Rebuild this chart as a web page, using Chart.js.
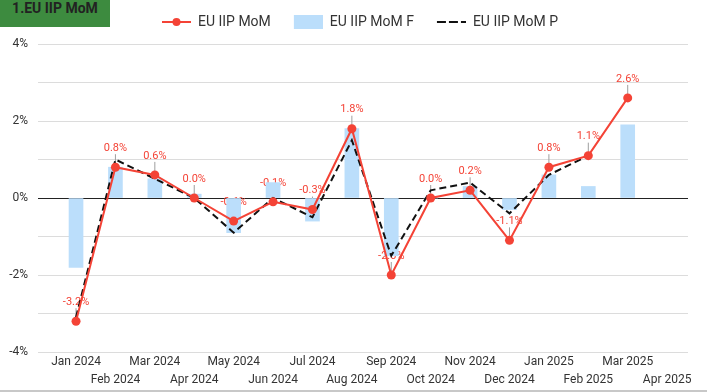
<!DOCTYPE html>
<html lang="en">
<head>
    <meta charset="UTF-8">
    <title>EU IIP MoM</title>
    <style>
        body { margin: 0; background: #fff; }
        .chart-container {
            position: relative;
            width: 707px;
            height: 392px;
        }
        .tag {
            position: absolute;
            left: 0;
            top: 0;
            width: 110px;
            height: 27px;
            line-height: 27px;
            background: #3d8b3f;
            color: #222;
            font: bold 14px Roboto, sans-serif;
            text-align: center;
            z-index: 2;
        }
        .bottom-rule {
            position: absolute;
            left: 0;
            right: 0;
            bottom: 0;
            height: 2px;
            background: #c8c8c8;
        }
    </style>
</head>
<body>
    <div class="chart-container">
        <div class="tag">1.EU IIP MoM</div>
        <canvas id="iipChart"></canvas>
        <div class="bottom-rule"></div>
    </div>

    <script src="https://cdn.jsdelivr.net/npm/chart.js"></script>
    <script>
        // data
        const months = ['Jan 2024', 'Feb 2024', 'Mar 2024', 'Apr 2024', 'May 2024', 'Jun 2024', 'Jul 2024', 'Aug 2024',
            'Sep 2024', 'Oct 2024', 'Nov 2024', 'Dec 2024', 'Jan 2025', 'Feb 2025', 'Mar 2025', 'Apr 2025'];
        const momActual = [-3.2, 0.8, 0.6, 0.0, -0.6, -0.1, -0.3, 1.8, -2.0, 0.0, 0.2, -1.1, 0.8, 1.1, 2.6, null];
        const momFinal = [-1.8, 0.8, 0.5, 0.1, -0.9, 0.4, -0.6, 1.8, -1.5, 0.0, 0.3, -0.3, 0.6, 0.3, 1.9, null];
        const momPrelim = [-3.1, 1.0, 0.5, 0.0, -0.9, 0.0, -0.5, 1.5, -1.5, 0.2, 0.4, -0.4, 0.6, 1.1, null, null];
        const yLabelled = [-4, -2, 0, 2, 4];

        const RED = '#f44336';
        const BLUE = '#bbdefb';

        Chart.defaults.font.family = 'Roboto, sans-serif';

        // little legend icons (8px blank on the left to space the items)
        function icon(draw) {
            const c = document.createElement('canvas');
            c.width = 37;
            c.height = 14;
            draw(c.getContext('2d'));
            return c;
        }
        const icons = [
            icon(g => {
                g.strokeStyle = RED; g.lineWidth = 2;
                g.beginPath(); g.moveTo(8, 7); g.lineTo(37, 7); g.stroke();
                g.fillStyle = RED;
                g.beginPath(); g.arc(22.5, 7, 4, 0, Math.PI * 2); g.fill();
            }),
            icon(g => { g.fillStyle = BLUE; g.fillRect(8, 0, 29, 14); }),
            icon(g => {
                g.strokeStyle = '#111'; g.lineWidth = 2; g.setLineDash([9, 3]);
                g.beginPath(); g.moveTo(8, 7); g.lineTo(37, 7); g.stroke();
            })
        ];

        const asPoints = arr => arr.map((v, i) => ({ x: i, y: v }));

        // value labels with a small grey leader above each red point
        const pointLabels = {
            id: 'pointLabels',
            beforeDatasetsDraw(chart) {
                const ctx = chart.ctx;
                const meta = chart.getDatasetMeta(0);
                ctx.save();
                ctx.font = '11px Roboto, sans-serif';
                ctx.textAlign = 'center';
                ctx.textBaseline = 'middle';
                meta.data.forEach((pt, i) => {
                    const v = momActual[i];
                    if (v === null) return;
                    ctx.strokeStyle = '#9e9e9e';
                    ctx.lineWidth = 1;
                    ctx.beginPath();
                    ctx.moveTo(pt.x, pt.y - 13);
                    ctx.lineTo(pt.x, pt.y);
                    ctx.stroke();
                    ctx.fillStyle = RED;
                    ctx.fillText(v.toFixed(1) + '%', pt.x, pt.y - 19);
                });
                ctx.restore();
            }
        };

        // fixed legend band height, and nudge the legend row a bit right
        const legendBox = {
            id: 'legendBox',
            beforeInit(chart) {
                const fit = chart.legend.fit;
                chart.legend.fit = function () {
                    fit.call(this);
                    this.height = 44;
                };
            },
            afterLayout(chart) {
                chart.legend.left += 12;
                chart.legend.right += 12;
            }
        };

        new Chart(document.getElementById('iipChart'), {
            type: 'line',
            data: {
                datasets: [{
                    type: 'line',
                    label: 'EU IIP MoM',
                    data: asPoints(momActual),
                    borderColor: RED,
                    backgroundColor: RED,
                    borderWidth: 2,
                    pointRadius: 4.5,
                    pointBackgroundColor: RED,
                    pointBorderWidth: 0,
                    order: 0
                }, {
                    type: 'bar',
                    label: 'EU IIP MoM F',
                    data: asPoints(momFinal),
                    backgroundColor: BLUE,
                    barThickness: 14,
                    order: 2
                }, {
                    type: 'line',
                    label: 'EU IIP MoM P',
                    data: asPoints(momPrelim),
                    borderColor: '#111',
                    borderWidth: 2,
                    borderDash: [7, 4],
                    pointRadius: 0,
                    order: 1
                }]
            },
            options: {
                responsive: true,
                maintainAspectRatio: false,
                animation: false,
                layout: { padding: { left: 0, right: 19, top: 0, bottom: 0 } },
                plugins: {
                    tooltip: { enabled: false },
                    legend: {
                        position: 'top',
                        labels: {
                            usePointStyle: true,
                            pointStyleWidth: 37,
                            padding: 15,
                            color: '#333',
                            font: { size: 14 },
                            generateLabels: chart => chart.data.datasets.map((ds, i) => ({
                                text: ds.label,
                                pointStyle: icons[i],
                                datasetIndex: i,
                                hidden: !chart.isDatasetVisible(i),
                                fontColor: '#333',
                                lineWidth: 0,
                                strokeStyle: 'transparent',
                                fillStyle: 'transparent'
                            }))
                        }
                    }
                },
                scales: {
                    x: {
                        type: 'linear',
                        min: -0.965,
                        max: 15.53,
                        offset: false,
                        grid: { display: false, drawTicks: false },
                        border: { display: false },
                        afterBuildTicks: s => { s.ticks = months.map((m, i) => ({ value: i })); },
                        afterFit: s => { s.height = 40; },
                        ticks: {
                            autoSkip: false,
                            maxRotation: 0,
                            padding: 1,
                            color: '#333',
                            font: { size: 12, lineHeight: 1.5 },
                            callback: v => v % 2 === 0 ? months[v] : ['', months[v]]
                        }
                    },
                    y: {
                        min: -4,
                        max: 4,
                        border: { display: false },
                        grid: {
                            drawTicks: false,
                            color: c => c.tick.value === 0 ? '#222' : '#dcdcdc',
                            lineWidth: 1
                        },
                        afterFit: s => { s.width = 38; },
                        ticks: {
                            stepSize: 1,
                            padding: 10,
                            color: '#333',
                            font: { size: 12 },
                            callback: v => yLabelled.includes(v) ? v + '%' : ''
                        }
                    }
                }
            },
            plugins: [pointLabels, legendBox]
        });
    </script>
</body>
</html>
